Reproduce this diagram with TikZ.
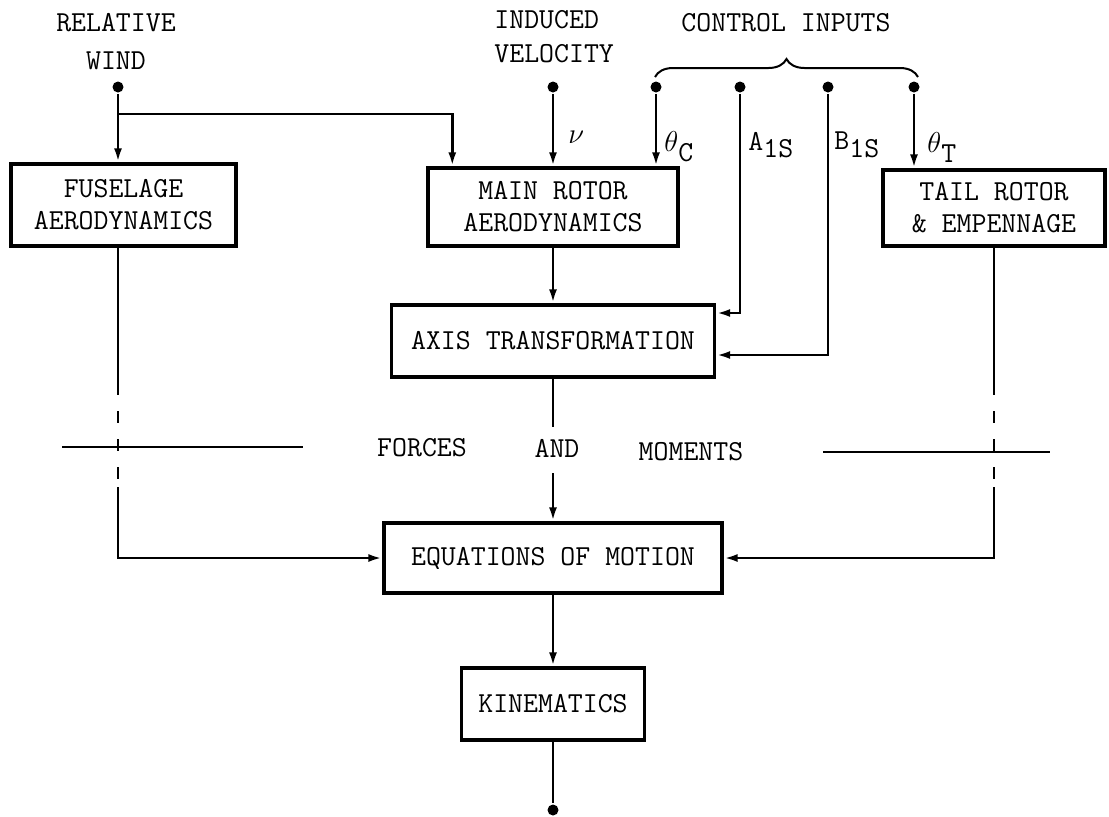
\documentclass[tikz,border=0pt]{standalone}
\usepackage{tikz}
\usetikzlibrary{arrows.meta,positioning,decorations.pathreplacing}

\begin{document}
\begin{tikzpicture}[
  x=0.5pt, y=-0.5pt,
  line width=1.4pt,
  font=\ttfamily\fontsize{14.5}{16}\selectfont,
  box/.style={draw, line width=1.7pt, align=center, inner sep=0pt},
  arrow/.style={-{Latex[length=7pt,width=4pt]}},
  dot/.style={circle, fill, inner sep=0pt, minimum size=5.5pt},
  lbl/.style={inner sep=1pt},
]
\useasboundingbox (0,0) rectangle (1109,816);

% inputs
\node[align=center] (windlbl) at (116,42) {RELATIVE\\[3pt]WIND};
\node[align=left, anchor=west, lbl] (indlbl) at (491,37) {INDUCED\\[1pt]VELOCITY};
\node (ctrllbl) at (786,23) {CONTROL INPUTS};
\draw[line width=1pt, decorate, decoration={brace, amplitude=9pt}] (655,77) -- (918,77);

\node[dot] (wind) at (118,87) {};
\node[dot] (nu) at (553,87) {};
\node[dot] (thc) at (656,87) {};
\node[dot] (a1s) at (740,87) {};
\node[dot] (b1s) at (828,87) {};
\node[dot] (tht) at (914,87) {};

% blocks
\node[box, minimum width=112.5pt, minimum height=41pt] (fus) at (123.5,205) {FUSELAGE\\AERODYNAMICS};
\node[box, minimum width=125pt, minimum height=39pt] (rotor) at (553,207) {MAIN ROTOR\\AERODYNAMICS};
\node[box, minimum width=111pt, minimum height=38pt] (tail) at (994,208) {TAIL ROTOR\\\& EMPENNAGE};
\node[box, minimum width=161.5pt, minimum height=36pt] (axis) at (553,341) {AXIS TRANSFORMATION};
\node[box, minimum width=169pt, minimum height=35pt] (eq) at (553,558) {EQUATIONS OF MOTION};
\node[box, minimum width=91.5pt, minimum height=36pt] (kin) at (553,704) {KINEMATICS};

% input labels
\node[lbl, anchor=west] (nulbl) at (565,137) {$\nu$};
\node[lbl, anchor=west] (thclbl) at (661,147) {$\theta$\raisebox{-0.8ex}{C}};
\node[lbl, anchor=west] (a1slbl) at (745,145) {A\raisebox{-0.6ex}{1S}};
\node[lbl, anchor=west] (b1slbl) at (831,145) {B\raisebox{-0.6ex}{1S}};
\node[lbl, anchor=west] (thtlbl) at (924,147) {$\theta$\raisebox{-0.8ex}{T}};

% input connectors
\coordinate (split) at (118,114);
\draw[arrow] (wind) -- (wind |- fus.north);
\draw[arrow] (split) -| ([xshift=13pt]rotor.north west);
\draw[arrow] (nu) -- (rotor);
\draw[arrow] (thc) -- (thc |- rotor.north);
\draw[arrow] (tht) -- (tht |- tail.north);
\draw[arrow] (a1s) |- ([yshift=14pt]axis.east);
\draw[arrow] (b1s) |- ([yshift=-7pt]axis.east);
\draw[arrow] (rotor) -- (axis);

% forces and moments
\coordinate (fmtop) at (553,427);
\coordinate (fmbot) at (553,473);
\draw (axis) -- (fmtop);
\draw[arrow] (fmbot) -- (eq);
\node (forces) at (422,448) {FORCES};
\node (and) at (557,448) {AND};
\node (moments) at (691,452) {MOMENTS};
\draw (62,447) -- (303,447);
\draw (823,452) -- (1050,452);

% fuselage and tail paths
\coordinate (fus1) at (118,395);
\coordinate (fus2) at (118,487);
\draw (wind |- fus.south) -- (fus1);
\draw[dash pattern=on 6pt off 8pt, dash phase=6pt] (fus1) -- (fus2);
\draw[arrow] (fus2) |- (eq.west);
\coordinate (tail1) at (994,395);
\coordinate (tail2) at (994,487);
\draw (tail) -- (tail1);
\draw[dash pattern=on 6pt off 8pt, dash phase=6pt] (tail1) -- (tail2);
\draw[arrow] (tail2) |- (eq.east);

% output
\draw[arrow] (eq) -- (kin);
\node[dot] (out) at (553,810) {};
\draw (kin) -- (out);
\end{tikzpicture}
\end{document}
